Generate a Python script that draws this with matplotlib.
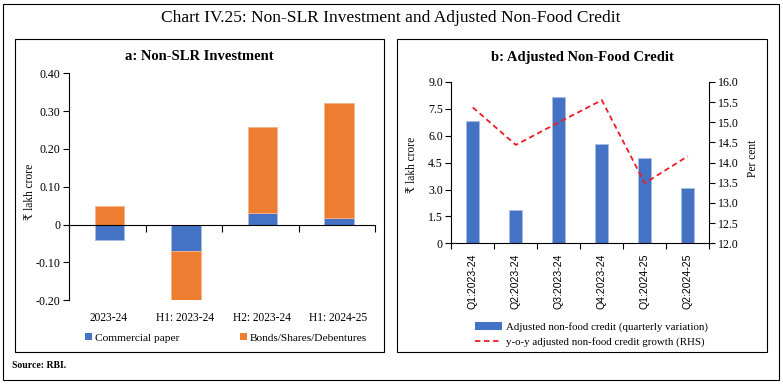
import matplotlib
matplotlib.use('Agg')
import matplotlib.pyplot as plt
import numpy as np
from matplotlib.patches import Rectangle, Patch
from matplotlib.lines import Line2D

plt.rcParams['font.family'] = ['Liberation Serif', 'DejaVu Serif', 'DejaVu Sans']

# ---------------- data ----------------
title_main = 'Chart IV.25: Non-SLR Investment and Adjusted Non-Food Credit'

categories_a = ['2023-24', 'H1: 2023-24', 'H2: 2023-24', 'H1: 2024-25']
commercial_paper = [-0.040, -0.071, 0.031, 0.018]
bonds_shares_debentures = [0.050, -0.132, 0.228, 0.304]
yticks_a = [-0.20, -0.10, 0.0, 0.10, 0.20, 0.30, 0.40]

categories_b = ['Q1:2023-24', 'Q2:2023-24', 'Q3:2023-24', 'Q4:2023-24', 'Q1:2024-25', 'Q2:2024-25']
nonfood_credit = [6.82, 1.84, 8.14, 5.55, 4.78, 3.10]
nonfood_growth_yoy = [15.37, 14.44, 15.00, 15.55, 13.49, 14.16]
yticks_b_left = [0, 1.5, 3.0, 4.5, 6.0, 7.5, 9.0]
yticks_b_right = [12.0, 12.5, 13.0, 13.5, 14.0, 14.5, 15.0, 15.5, 16.0]

BLUE = '#4472C4'
ORANGE = '#ED7D31'
RED = '#EE1C25'

W, H = 783, 386
fig = plt.figure(figsize=(W / 100, H / 100), dpi=100)


def fx(px):
    return px / W


def fy(py):
    return 1 - py / H


def frame(x0, y0, x1, y1, lw=0.8):
    fig.patches.append(Rectangle((fx(x0), fy(y1)), fx(x1) - fx(x0), fy(y0) - fy(y1),
                                 transform=fig.transFigure, fill=False,
                                 edgecolor='black', linewidth=lw))


# frames
frame(3, 4, 779, 380)
frame(15, 39, 384, 352)
frame(397, 39, 767, 352)

fig.text(fx(391), fy(18), title_main, ha='center', va='center', fontsize=12.5)
fig.text(fx(12), fy(366), 'Source: RBI.', ha='left', va='center', fontsize=7, fontweight='semibold')

# ---------------- panel a ----------------
axa = fig.add_axes([fx(69), fy(300.3), fx(375) - fx(69), fy(73.2) - fy(300.3)])
xa = np.arange(len(categories_a))
cp = np.array(commercial_paper)
bd = np.array(bonds_shares_debentures)
bd_bottom = np.where(np.sign(bd) == np.sign(cp), cp, 0.0)
axa.bar(xa + 0.03, cp, width=0.39, color=BLUE, edgecolor='#A9BCE4', linewidth=0.6, zorder=2)
axa.bar(xa + 0.03, bd, bottom=bd_bottom, width=0.39, color=ORANGE, edgecolor='#F4B488',
        linewidth=0.6, zorder=2)
axa.set_xlim(-0.5, len(categories_a) - 0.5)
axa.set_ylim(-0.20, 0.40)
axa.set_yticks(yticks_a)
axa.set_yticklabels(['0' if v == 0 else f'{v:.2f}' for v in yticks_a], fontsize=8.6)
for s in ['top', 'right']:
    axa.spines[s].set_visible(False)
axa.spines['bottom'].set_position(('data', 0))
axa.spines['left'].set_linewidth(0.8)
axa.spines['bottom'].set_linewidth(0.8)
axa.set_xticks(xa)
axa.set_xticklabels([])
axa.tick_params(axis='x', which='major', length=0)
axa.set_xticks(np.arange(-0.5, len(categories_a), 1.0), minor=True)
axa.tick_params(axis='x', which='minor', length=5, width=0.8, direction='out')
axa.tick_params(axis='y', length=4, width=0.8, pad=2)
for i, c in enumerate(categories_a):
    axa.text(i + 0.02, -0.078, c, transform=axa.get_xaxis_transform(), ha='center', va='center',
             fontsize=8.3)
fig.text(fx(30), fy(192), '₹ lakh crore', rotation=90, ha='center', va='center', fontsize=8.3)
fig.text(fx(199), fy(57), 'a: Non-SLR Investment', ha='center', va='center', fontsize=10.5,
         fontweight='bold')
leg_a = fig.legend(handles=[Patch(facecolor=BLUE, label='Commercial paper'),
                            Patch(facecolor=ORANGE, label='Bonds/Shares/Debentures')],
                   loc='center', bbox_to_anchor=(fx(226), fy(338)), ncol=2, frameon=False,
                   fontsize=8.2, handlelength=0.6, handleheight=0.6, handletextpad=0.3,
                   columnspacing=5.3)

# ---------------- panel b ----------------
axb = fig.add_axes([fx(451.3), fy(243.3), fx(709.3) - fx(451.3), fy(82) - fy(243.3)])
xb = np.arange(len(categories_b))
axb.bar(xb, nonfood_credit, width=0.31, color=BLUE, edgecolor='#A9BCE4', linewidth=0.6, zorder=2)
axb.set_xlim(-0.5, len(categories_b) - 0.5)
axb.set_ylim(0, 9.0)
axb.set_yticks(yticks_b_left)
axb.set_yticklabels(['0' if v == 0 else f'{v:.1f}' for v in yticks_b_left], fontsize=8.6)
axb.spines['top'].set_visible(False)
axb.spines['right'].set_visible(False)
axb.set_xticks(xb)
axb.set_xticklabels(categories_b, rotation=90, fontsize=7.6,
                    fontfamily=['Liberation Sans', 'DejaVu Sans'])
axb.tick_params(axis='x', which='major', length=0, pad=7)
axb.set_xticks(np.arange(-0.5, len(categories_b), 1.0), minor=True)
axb.tick_params(axis='x', which='minor', length=4, width=0.8, direction='out')
axb.tick_params(axis='y', length=4, width=0.8, pad=2)

axr = axb.twinx()
axr.plot(xb, nonfood_growth_yoy, color=RED, linestyle=(0, (3, 2)), linewidth=1.3, zorder=3)
axr.set_ylim(12.0, 16.0)
axr.set_yticks(yticks_b_right)
axr.set_yticklabels([f'{v:.1f}' for v in yticks_b_right], fontsize=8.6)
axr.spines['top'].set_visible(False)
axr.spines['left'].set_visible(False)
axr.spines['bottom'].set_visible(False)
axr.tick_params(axis='y', length=4, width=0.8, pad=2)

fig.text(fx(412), fy(165), '₹ lakh crore', rotation=90, ha='center', va='center', fontsize=8.3)
fig.text(fx(753), fy(158), 'Per cent', rotation=90, ha='center', va='center', fontsize=8.3)
fig.text(fx(582), fy(57), 'b: Adjusted Non-Food Credit', ha='center', va='center', fontsize=10.5,
         fontweight='bold')
leg_b = fig.legend(handles=[Patch(facecolor=BLUE, label='Adjusted non-food credit (quarterly variation)'),
                            Line2D([0], [0], color=RED, linestyle=(0, (3, 2)), linewidth=1.3,
                                   label='y-o-y adjusted non-food credit growth (RHS)')],
                   loc='upper left', bbox_to_anchor=(fx(465), fy(312)), ncol=1, frameon=False,
                   fontsize=7.85, handlelength=2.5, handleheight=0.7, handletextpad=0.4,
                   labelspacing=0.45)

fig.savefig('out.png', dpi=100)
